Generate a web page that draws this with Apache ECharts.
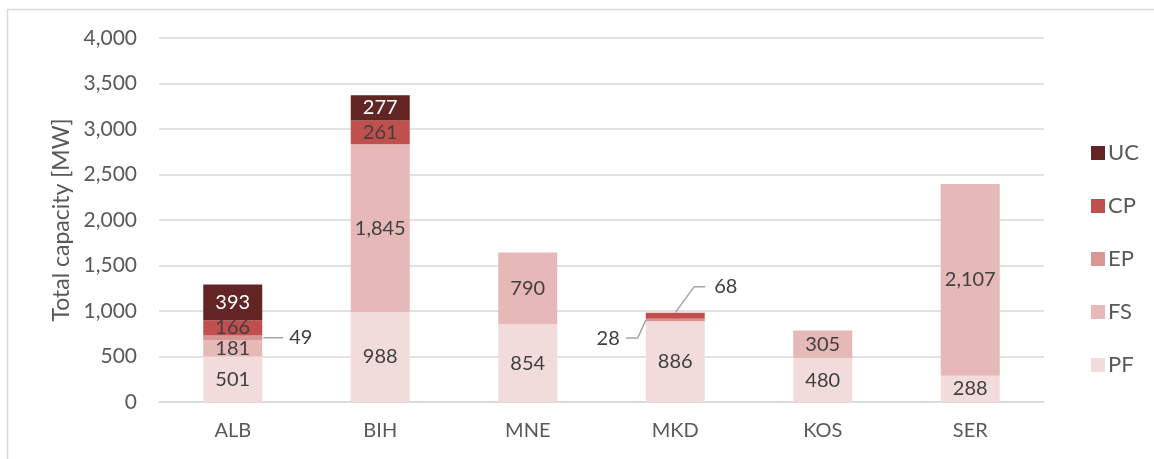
<!DOCTYPE html>
<html lang="en">
<head>
    <meta charset="UTF-8">
    <title>Total capacity</title>
    <script src="https://cdn.jsdelivr.net/npm/echarts@6/dist/echarts.min.js"></script>
    <style>
        html, body { margin: 0; padding: 0; background: #fff; }
        #chart { width: 1154px; height: 459px; }
    </style>
</head>
<body>
    <div id="chart"></div>

    <script>
        const categories = ['ALB', 'BIH', 'MNE', 'MKD', 'KOS', 'SER'];
        const pf = [501, 988, 854, 886, 480, 288];
        const fs = [181, 1845, 790, 0, 305, 2107];
        const ep = [49, 0, 0, 28, 0, 0];
        const cp = [166, 261, 0, 68, 0, 0];
        const uc = [393, 277, 0, 0, 0, 0];
        const yTicks = [0, 500, 1000, 1500, 2000, 2500, 3000, 3500, 4000];

        // small segments whose value sits outside the bar with a leader line
        const callouts = [
            {series: 'EP', cat: 0, side: 'right'},
            {series: 'EP', cat: 3, side: 'left'},
            {series: 'CP', cat: 3, side: 'top'}
        ];

        const seriesDefs = [
            {name: 'PF', values: pf, color: '#f2dcdb'},
            {name: 'FS', values: fs, color: '#e6b9b8'},
            {name: 'EP', values: ep, color: '#d99694'},
            {name: 'CP', values: cp, color: '#c0504d'},
            {name: 'UC', values: uc, color: '#632523'}
        ];

        const font = 'Lato';
        const fmt = v => v.toLocaleString('en-US');

        function isCallout(name, i){
            return callouts.some(c => c.series === name && c.cat === i);
        }

        function bottomOf(name, i){
            let sum = 0;
            for(const s of seriesDefs){
                if(s.name === name) break;
                sum += s.values[i];
            }
            return sum;
        }

        const barSeries = seriesDefs.map(s => ({
            name: s.name,
            type: 'bar',
            stack: 'total',
            barWidth: 59,
            itemStyle: {color: s.color},
            label: {
                show: true,
                position: 'inside',
                fontFamily: font,
                fontSize: 20,
                color: s.name === 'UC' ? '#ffffff' : '#404040'
            },
            data: s.values.map((v, i) => {
                const hide = v === 0 || isCallout(s.name, i);
                return {
                    value: v,
                    label: {show: !hide, formatter: () => fmt(v)}
                };
            })
        }));

        const calloutData = callouts.map(c => {
            const s = seriesDefs.find(d => d.name === c.series);
            const v = s.values[c.cat];
            const b = bottomOf(c.series, c.cat);
            return [c.cat, b, b + v, v, c.side];
        });

        const calloutSeries = {
            type: 'custom',
            name: 'callouts',
            silent: true,
            z: 5,
            data: calloutData,
            renderItem(params, api){
                const cat = api.value(0);
                const lo = api.value(1);
                const hi = api.value(2);
                const v = api.value(3);
                const side = calloutData[params.dataIndex][4];
                const half = 29.5;
                const mid = api.coord([cat, (lo + hi) / 2]);
                const top = api.coord([cat, hi]);
                let pts, tx, ty, align;
                if(side === 'right'){
                    pts = [[mid[0] + half + 1, mid[1]], [mid[0] + half + 21, mid[1]]];
                    tx = mid[0] + half + 27; ty = mid[1]; align = 'left';
                }else if(side === 'left'){
                    const a = [mid[0] - half, mid[1]];
                    pts = [a, [a[0] - 8, a[1] + 18], [a[0] - 20, a[1] + 18]];
                    tx = a[0] - 26; ty = a[1] + 18; align = 'right';
                }else{
                    const a = [top[0], top[1]];
                    pts = [a, [a[0] + 19, a[1] - 26], [a[0] + 30, a[1] - 26]];
                    tx = a[0] + 39; ty = a[1] - 26; align = 'left';
                }
                return {
                    type: 'group',
                    children: [
                        {
                            type: 'polyline',
                            shape: {points: pts},
                            style: {stroke: '#a6a6a6', lineWidth: 1.5, fill: null}
                        },
                        {
                            type: 'text',
                            style: {
                                x: tx, y: ty,
                                text: fmt(v),
                                align: align,
                                verticalAlign: 'middle',
                                fontFamily: font,
                                fontSize: 20,
                                fill: '#404040'
                            }
                        }
                    ]
                };
            }
        };

        const chart = echarts.init(document.getElementById('chart'));
        const option = {
            animation: false,
            backgroundColor: '#ffffff',
            graphic: [{
                type: 'rect',
                shape: {x: 7.5, y: 9.5, width: 1170, height: 470},
                style: {fill: null, stroke: '#d9d9d9', lineWidth: 1.5},
                silent: true
            }],
            grid: {left: 159, right: 110, top: 38, bottom: 57},
            legend: {
                orient: 'vertical',
                left: 1086,
                top: 137,
                itemWidth: 14,
                itemHeight: 14,
                itemGap: 31,
                icon: 'rect',
                data: ['UC', 'CP', 'EP', 'FS', 'PF'],
                textStyle: {fontFamily: font, fontSize: 22, color: '#595959', padding: [0, 0, 0, -2]}
            },
            xAxis: {
                type: 'category',
                data: categories,
                axisLine: {lineStyle: {color: '#d9d9d9', width: 1.5}},
                axisTick: {show: false},
                axisLabel: {fontFamily: font, fontSize: 20, color: '#595959', margin: 19}
            },
            yAxis: {
                type: 'value',
                min: yTicks[0],
                max: yTicks[yTicks.length - 1],
                interval: yTicks[1] - yTicks[0],
                name: 'Total capacity [MW]',
                nameLocation: 'middle',
                nameGap: 86,
                nameTextStyle: {fontFamily: font, fontSize: 23, color: '#595959'},
                axisLine: {show: false},
                axisTick: {show: false},
                axisLabel: {fontFamily: font, fontSize: 21, color: '#595959', margin: 22, formatter: v => fmt(v)},
                splitLine: {lineStyle: {color: '#d9d9d9', width: 1.5}}
            },
            series: [...barSeries, calloutSeries]
        };
        chart.setOption(option);
    </script>
</body>
</html>
